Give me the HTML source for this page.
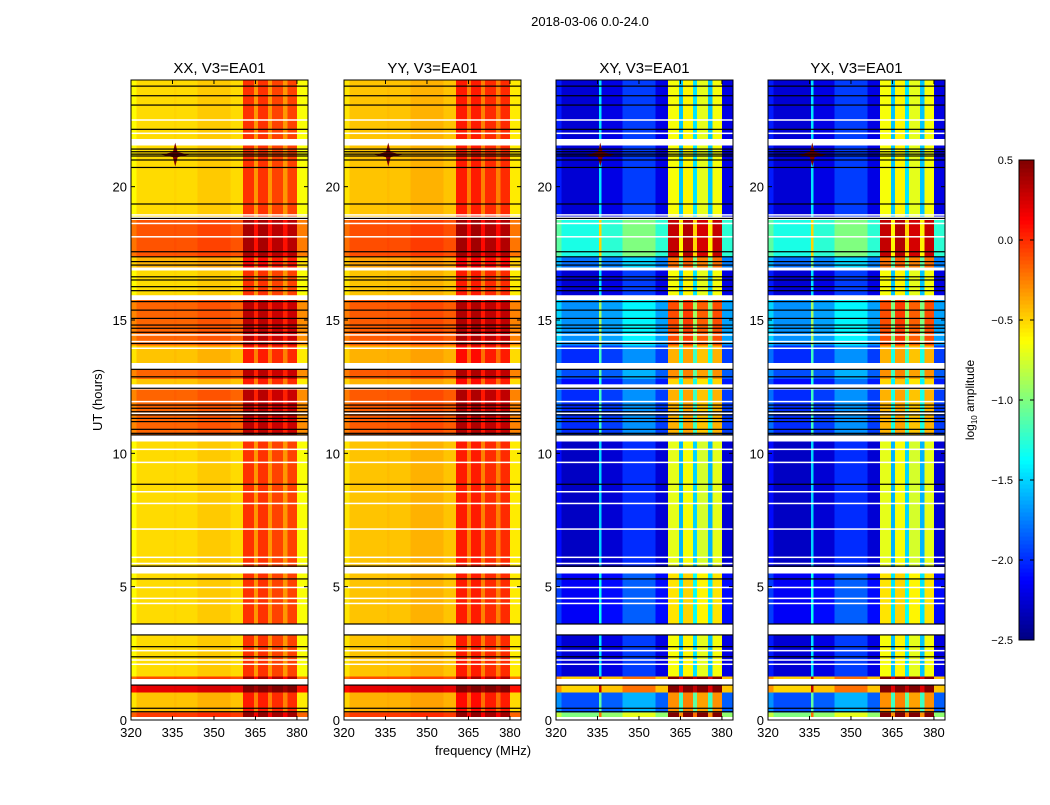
<!DOCTYPE html>
<html><head><meta charset="utf-8"><style>
body{margin:0;background:#fff;font-family:"Liberation Sans",sans-serif}
svg text{font-family:"Liberation Sans",sans-serif;fill:#000}
</style></head><body>
<svg id="fig" width="1050" height="800" viewBox="0 0 1050 800" xmlns="http://www.w3.org/2000/svg">
<rect width="1050" height="800" fill="#fff"/>
<text x="590" y="26" font-size="13" text-anchor="middle">2018-03-06 0.0-24.0</text>
<text x="483" y="755" font-size="13" text-anchor="middle">frequency (MHz)</text>
<text x="102" y="400" font-size="13" text-anchor="middle" transform="rotate(-90 102 400)">UT (hours)</text>
<g id="panels"></g>
<g id="cbar"></g>
</svg>
<script>
// ---- data ----
const panelTitles = ["XX, V3=EA01","YY, V3=EA01","XY, V3=EA01","YX, V3=EA01"];
const segStart = [0.0,0.12,0.3,1.05,1.3,1.55,1.65,3.2,3.6,5.5,5.75,10.45,10.7,12.4,12.55,12.8,13.15,13.4,14.05,15.75,15.9,16.85,16.95,17.4,18.75,18.9,21.55,21.8];
const segEnd   = [0.12,0.3,1.05,1.3,1.55,1.65,3.2,3.6,5.5,5.75,10.45,10.7,12.4,12.55,12.8,13.15,13.4,14.05,15.75,15.9,16.85,16.95,17.4,18.75,18.9,21.55,21.8,24.0];
const xxLevel = [null,-0.05,-0.45,0.2,null,-0.1,-0.52,null,-0.52,null,-0.52,null,-0.17,null,-0.45,-0.17,null,-0.45,-0.17,null,-0.52,null,-0.4,-0.12,null,-0.52,null,-0.52];
const yyLevel = [null,-0.05,-0.4,0.2,null,-0.1,-0.45,null,-0.45,null,-0.45,null,-0.14,null,-0.4,-0.14,null,-0.4,-0.14,null,-0.45,null,-0.35,-0.1,null,-0.45,null,-0.45];
const xyLevel = [null,-1.0,-1.9,-0.5,null,-0.5,-2.25,null,-2.15,null,-2.3,null,-2.0,null,-2.1,-1.9,null,-2.0,-1.7,null,-2.25,null,-1.8,-1.3,null,-2.25,null,-2.25];
const yxLevel = [null,-1.0,-1.9,-0.5,null,-0.5,-2.25,null,-2.15,null,-2.3,null,-2.0,null,-2.1,-1.9,null,-2.0,-1.7,null,-2.25,null,-1.8,-1.3,null,-2.25,null,-2.25];
const freqEdges = [320,322,335.5,336.5,344,356,360.5,364.5,366,369.5,371,375,376.5,380,384];
const parOffset = [-0.1,0,0.02,0,0.05,0,0.5,0.2,0.5,0.2,0.45,0.2,0.45,-0.12];
const crossOffset = [0.2,0,0.8,0.05,0.3,0.05,1.6,0.7,1.65,0.8,1.55,0.7,1.6,0.05];
const blackLines = [23.77,23.41,23.06,22.15,21.41,21.31,21.22,21.15,21.0,20.72,19.35,18.81,17.56,17.37,17.19,17.06,16.62,16.5,16.25,16.1,15.69,15.37,15.06,14.81,14.69,14.54,14.12,13.15,12.87,12.44,11.81,11.69,11.56,11.44,11.31,11.19,10.9,10.75,10.69,8.84,5.77,5.29,3.6,3.19,2.75,2.37,1.31,0.44,0.31];
const whiteLines = [22.5,22.0,18.94,18.62,18.12,16.94,15.9,14.44,14.19,13.94,12.56,11.94,11.5,10.15,9.66,8.56,8.12,7.16,6.1,5.87,4.97,4.56,4.37,3.5,3.37,2.6,2.25,2.09];
const rfiFreq = [336];
const rfiHour = [21.2];
const xTicks = [320,335,350,365,380];
const yTicks = [0,5,10,15,20];
const cbarTicks = [0.5,0.0,-0.5,-1.0,-1.5,-2.0,-2.5];
const cbarLabels = ["0.5","0.0","\u22120.5","\u22121.0","\u22121.5","\u22122.0","\u22122.5"];
// ---- layout ----
const panelLeft = [131,344,556,768];
const PW = 177, PT = 80, PB = 720;
const VMIN = -2.5, VMAX = 0.5;
const NS = "http://www.w3.org/2000/svg";
function el(tag, attrs, parent){const e=document.createElementNS(NS,tag);for(const k in attrs)e.setAttribute(k,attrs[k]);parent.appendChild(e);return e;}
function jet(v){let t=(v-VMIN)/(VMAX-VMIN);t=Math.max(0,Math.min(1,t));
 const c=x=>Math.round(255*Math.max(0,Math.min(1,x)));
 return `rgb(${c(1.5-Math.abs(4*t-3))},${c(1.5-Math.abs(4*t-2))},${c(1.5-Math.abs(4*t-1))})`;}
const yScale = h => PB - (h/24)*(PB-PT);
const xScaleFor = L => f => L + (f-320)/(384-320)*PW;
const levels = [xxLevel,yyLevel,xyLevel,yxLevel];
const offsets = [parOffset,parOffset,crossOffset,crossOffset];
const root = document.getElementById('panels');
for(let p=0;p<4;p++){
 const L=panelLeft[p], xs=xScaleFor(L);
 const g=el('g',{},root);
 
 
 const cells=el('g',{'shape-rendering':'crispEdges'},g);
 
 
 for(let s=0;s<segStart.length;s++){
  const lv=levels[p][s]; if(lv===null) continue;
  const y0=yScale(segEnd[s]), y1=yScale(segStart[s]);
  for(let f=0;f<freqEdges.length-1;f++){
   const x0=xs(freqEdges[f]), x1=xs(freqEdges[f+1]);
   const r=el('rect',{x:x0,y:y0,width:x1-x0+0.3,height:y1-y0+0.3,fill:jet(lv+offsets[p][f])},cells);
   
   
  }
 }
 for(let i=0;i<rfiFreq.length;i++){
  const cx=xs(rfiFreq[i]), cy=yScale(rfiHour[i]);
  const d=el('path',{d:`M${cx-14} ${cy}L${cx} ${cy-3}L${cx+14} ${cy}L${cx} ${cy+3}Z M${cx-3} ${cy}L${cx} ${cy-12}L${cx+3} ${cy}L${cx} ${cy+12}Z`,fill:'#800000'},g);
  
  
 }
 for(const h of whiteLines){const l=el('rect',{x:L,y:yScale(h)-0.75,width:PW,height:1.5,fill:'#fff'},g);
  
  }
 for(const h of blackLines){const l=el('rect',{x:L,y:yScale(h)-0.6,width:PW,height:1.2,fill:'#000'},g);
  
  }
 const fr=el('rect',{x:L,y:PT,width:PW,height:PB-PT,fill:'none',stroke:'#000','stroke-width':1},g);
 
 
 const t=el('text',{x:L+PW/2,y:73,'font-size':15,'text-anchor':'middle'},g); t.textContent=panelTitles[p];
 
 
 for(const v of xTicks){const x=xs(v);
  el('line',{x1:x,x2:x,y1:PB,y2:PB-4,stroke:'#000'},g);el('line',{x1:x,x2:x,y1:PT,y2:PT+4,stroke:'#000'},g);
  const tx=el('text',{x:x,y:PB+17,'font-size':13,'text-anchor':'middle'},g);tx.textContent=v;
  
  }
 for(const v of yTicks){const y=yScale(v);
  el('line',{x1:L,x2:L+4,y1:y,y2:y,stroke:'#000'},g);el('line',{x1:L+PW,x2:L+PW-4,y1:y,y2:y,stroke:'#000'},g);
  const ty=el('text',{x:L-4,y:y+5,'font-size':13,'text-anchor':'end'},g);ty.textContent=v;
  
  }
}
// colorbar
const cb=document.getElementById('cbar');


const CX=1019,CW=15,CT=160,CBt=640;
const cs=v=>CBt-(v-VMIN)/(VMAX-VMIN)*(CBt-CT);
for(let i=0;i<120;i++){const v0=VMIN+i*(VMAX-VMIN)/120;
 el('rect',{x:CX,y:cs(v0+(VMAX-VMIN)/120),width:CW,height:(CBt-CT)/120+0.5,fill:jet(v0+(VMAX-VMIN)/240)},cb);}
el('rect',{x:CX,y:CT,width:CW,height:CBt-CT,fill:'none',stroke:'#000'},cb);
cbarTicks.forEach((v,i)=>{const y=cs(v);
 el('line',{x1:CX,x2:CX+4,y1:y,y2:y,stroke:'#000'},cb);
 el('line',{x1:CX+CW-4,x2:CX+CW,y1:y,y2:y,stroke:'#000'},cb);
 const t=el('text',{x:CX-6,y:y+4,'font-size':11,'text-anchor':'end'},cb);t.textContent=cbarLabels[i];
 
 });
const lab=el('text',{x:974,y:400,'font-size':12,'text-anchor':'middle',transform:'rotate(-90 974 400)'},cb);
lab.innerHTML='log<tspan font-size="8" dy="3">10</tspan><tspan dy="-3"> amplitude</tspan>';


</script>
</body></html>
